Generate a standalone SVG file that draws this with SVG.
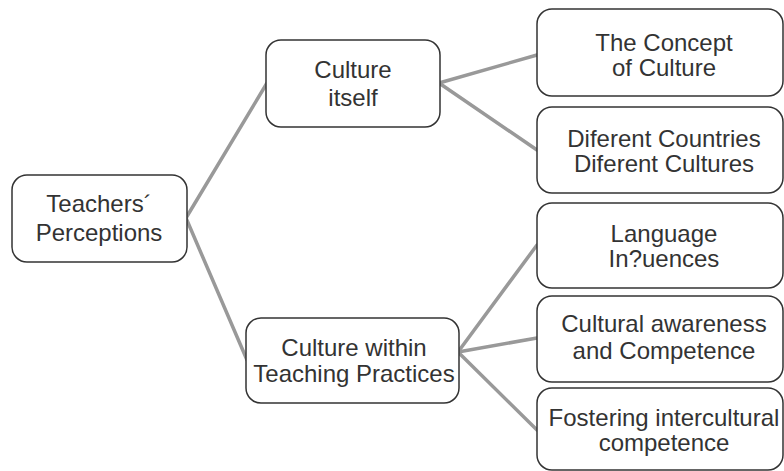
<svg xmlns="http://www.w3.org/2000/svg" width="784" height="471" viewBox="0 0 784 471">
<style>
.box{fill:#fff;stroke:#333;stroke-width:1.5}
.lbl{font-family:"Liberation Sans",Arial,sans-serif;font-size:24px;fill:#333;text-anchor:middle}
.conn{stroke:#999;stroke-width:3.5;fill:none;stroke-linecap:round}
</style>
<rect width="784" height="471" fill="#fff"/>
<g id="connectors">
<line class="conn" x1="186" y1="218" x2="267" y2="83"/>
<line class="conn" x1="186" y1="218" x2="247" y2="360"/>
<line class="conn" x1="439" y1="83" x2="537" y2="55"/>
<line class="conn" x1="439" y1="83" x2="537" y2="150"/>
<line class="conn" x1="458" y1="352" x2="537" y2="245"/>
<line class="conn" x1="458" y1="352" x2="537" y2="338"/>
<line class="conn" x1="458" y1="352" x2="537" y2="430"/>
</g>
<g id="teachers">
<rect class="box" x="12" y="175" width="175" height="87" rx="15"/>
<text class="lbl" x="99" y="212">Teachers´</text>
<text class="lbl" x="99" y="241">Perceptions</text>
</g>
<g id="culture-itself">
<rect class="box" x="266" y="40" width="174" height="87" rx="15"/>
<text class="lbl" x="353" y="78">Culture</text>
<text class="lbl" x="353" y="106">itself</text>
</g>
<g id="culture-within">
<rect class="box" x="246" y="318" width="213" height="85" rx="15"/>
<text class="lbl" x="354" y="356">Culture within</text>
<text class="lbl" x="354" y="382">Teaching Practices</text>
</g>
<g id="concept">
<rect class="box" x="537" y="9" width="246" height="87" rx="15"/>
<text class="lbl" x="664" y="51">The Concept</text>
<text class="lbl" x="664" y="76">of Culture</text>
</g>
<g id="different">
<rect class="box" x="537" y="107" width="246" height="86" rx="15"/>
<text class="lbl" x="664" y="147">Diferent Countries</text>
<text class="lbl" x="664" y="172">Diferent Cultures</text>
</g>
<g id="language">
<rect class="box" x="537" y="203" width="246" height="85" rx="15"/>
<text class="lbl" x="664" y="242">Language</text>
<text class="lbl" x="664" y="267">In?uences</text>
</g>
<g id="awareness">
<rect class="box" x="537" y="296" width="246" height="86" rx="15"/>
<text class="lbl" x="664" y="332">Cultural awareness</text>
<text class="lbl" x="664" y="359">and Competence</text>
</g>
<g id="fostering">
<rect class="box" x="537" y="388" width="246" height="82" rx="15"/>
<text class="lbl" x="664" y="426">Fostering intercultural</text>
<text class="lbl" x="664" y="451">competence</text>
</g>
</svg>
